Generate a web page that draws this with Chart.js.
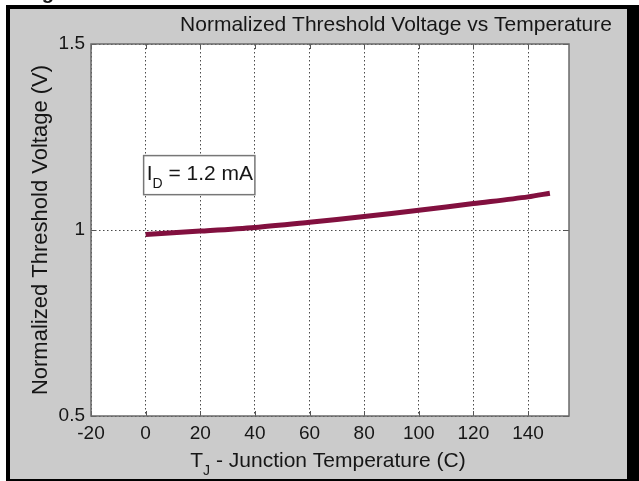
<!DOCTYPE html>
<html>
<head>
<meta charset="utf-8">
<script src="https://cdn.jsdelivr.net/npm/chart.js@4.4.1/dist/chart.umd.min.js"></script>
<style>
  html, body { margin: 0; padding: 0; background: #fff; }
  #wrap { position: relative; width: 639px; height: 481px; }
</style>
</head>
<body>
<div id="wrap"><canvas id="vthChart"></canvas></div>
<script>
// Data
const tempC = [0, 20, 40, 60, 80, 100, 120, 140, 148];
const vthNorm = [0.988, 0.997, 1.007, 1.021, 1.036, 1.053, 1.071, 1.089, 1.099];
const xTicks = [-20, 0, 20, 40, 60, 80, 100, 120, 140];
const yTicks = [0.5, 1, 1.5];

const FONT = '"Liberation Sans", Arial, sans-serif';
const INK = '#161616';

// Frame, box, titles and the I_D label (matlab-style figure)
const figurePlugin = {
    id: 'figure',
    beforeDraw(chart) {
        const { ctx, width, height, chartArea: a } = chart;
        ctx.save();
        ctx.fillStyle = '#ffffff';
        ctx.fillRect(0, 0, width, height);
        ctx.fillStyle = '#000000';
        ctx.fillRect(6, 5, width - 6, height - 5);
        ctx.fillStyle = '#cbcbcb';
        ctx.fillRect(10, 9, 617, 470);
        ctx.fillStyle = '#ffffff';
        ctx.fillRect(a.left, a.top, a.right - a.left, a.bottom - a.top);
        // descender of the caption above, cut off by the crop
        ctx.fillStyle = INK;
        ctx.font = 'bold 20px ' + FONT;
        ctx.textBaseline = 'alphabetic';
        ctx.fillText('Fig', 24, -1);
        ctx.restore();
    },
    afterDraw(chart) {
        const { ctx, chartArea: a, scales } = chart;
        const xs = scales.x, ys = scales.y;
        ctx.save();

        // inward tick marks
        ctx.strokeStyle = '#555555';
        ctx.lineWidth = 1;
        ctx.beginPath();
        xTicks.forEach(v => {
            const px = Math.round(xs.getPixelForValue(v)) + 0.5;
            ctx.moveTo(px, a.bottom); ctx.lineTo(px, a.bottom - 5);
            ctx.moveTo(px, a.top); ctx.lineTo(px, a.top + 5);
        });
        yTicks.forEach(v => {
            const py = Math.round(ys.getPixelForValue(v)) + 0.5;
            ctx.moveTo(a.left, py); ctx.lineTo(a.left + 5, py);
            ctx.moveTo(a.right, py); ctx.lineTo(a.right - 5, py);
        });
        ctx.stroke();

        // plot box
        ctx.strokeStyle = '#6a6a6a';
        ctx.lineWidth = 1.5;
        ctx.strokeRect(a.left, a.top, a.right - a.left, a.bottom - a.top);

        ctx.fillStyle = INK;
        ctx.textBaseline = 'alphabetic';

        const big = '21px ' + FONT, small = '14px ' + FONT;

        // title
        ctx.font = big;
        ctx.textAlign = 'center';
        ctx.fillText('Normalized Threshold Voltage vs Temperature', 396, 31);

        // y axis title
        ctx.save();
        ctx.translate(47, (a.top + a.bottom) / 2);
        ctx.rotate(-Math.PI / 2);
        ctx.font = '22px ' + FONT;
        ctx.fillText('Normalized Threshold Voltage (V)', 0, 0);
        ctx.restore();

        // x axis title with subscript J
        ctx.textAlign = 'left';
        const rest = ' - Junction Temperature (C)';
        ctx.font = big;
        const wT = ctx.measureText('T').width;
        const wR = ctx.measureText(rest).width;
        ctx.font = small;
        const wJ = ctx.measureText('J').width;
        let x0 = (a.left + a.right) / 2 - (wT + wJ + wR) / 2 - 2;
        const yb = 467;
        ctx.font = big;
        ctx.fillText('T', x0, yb);
        ctx.font = small;
        ctx.fillText('J', x0 + wT, yb + 8);
        ctx.font = big;
        ctx.fillText(rest, x0 + wT + wJ, yb);

        // I_D annotation box, spans roughly x 0..40, y 1.095..1.2
        const bl = xs.getPixelForValue(0) - 2, br = xs.getPixelForValue(40);
        const bt = ys.getPixelForValue(1.2), bb = ys.getPixelForValue(1.095);
        ctx.fillStyle = '#ffffff';
        ctx.fillRect(bl, bt, br - bl, bb - bt);
        ctx.strokeStyle = '#777777';
        ctx.lineWidth = 1.5;
        ctx.strokeRect(bl, bt, br - bl, bb - bt);
        ctx.fillStyle = INK;
        ctx.font = big;
        ctx.fillText('I', bl + 3, bt + 24);
        const wI = ctx.measureText('I').width;
        ctx.font = small;
        ctx.fillText('D', bl + 3 + wI, bt + 32);
        const wD = ctx.measureText('D').width;
        ctx.font = big;
        ctx.fillText(' = 1.2 mA', bl + 3 + wI + wD, bt + 24);

        ctx.restore();
    }
};

new Chart(document.getElementById('vthChart'), {
    type: 'line',
    data: {
        datasets: [{
            data: tempC.map((t, i) => ({ x: t, y: vthNorm[i] })),
            borderColor: '#82103f',
            borderWidth: 5,
            pointRadius: 0,
            tension: 0.3,
            fill: false
        }]
    },
    options: {
        responsive: true,
        maintainAspectRatio: false,
        animation: false,
        events: [],
        layout: { padding: { top: 44, right: 70, left: 0, bottom: 0 } },
        plugins: {
            legend: { display: false },
            title: { display: false },
            tooltip: { enabled: false }
        },
        scales: {
            x: {
                type: 'linear',
                min: -20,
                max: 155,
                afterBuildTicks: s => { s.ticks = xTicks.map(v => ({ value: v })); },
                afterFit: s => { s.height = 65; },
                grid: { color: '#4a4a4a', lineWidth: 1, drawTicks: false },
                border: { display: false, dash: [1.5, 2.5] },
                ticks: {
                    autoSkip: false,
                    maxRotation: 0,
                    padding: 6,
                    color: INK,
                    font: { family: FONT, size: 19 }
                }
            },
            y: {
                min: 0.5,
                max: 1.5,
                afterBuildTicks: s => { s.ticks = yTicks.map(v => ({ value: v })); },
                afterFit: s => { s.width = 91; },
                grid: { color: '#4a4a4a', lineWidth: 1, drawTicks: false },
                border: { display: false, dash: [1.5, 2.5] },
                ticks: {
                    padding: 6,
                    color: INK,
                    font: { family: FONT, size: 19 },
                    callback: v => String(v)
                }
            }
        }
    },
    plugins: [figurePlugin]
});
</script>
</body>
</html>
